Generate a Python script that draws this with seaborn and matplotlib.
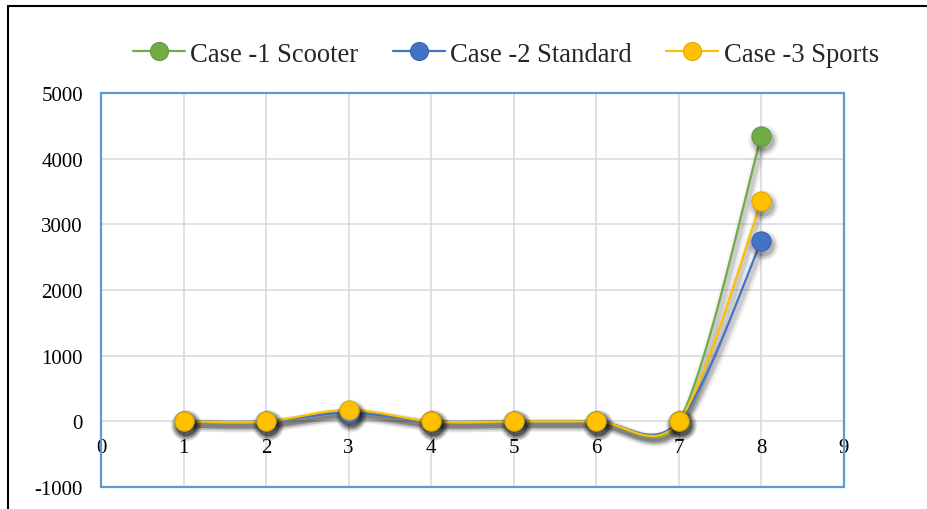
import numpy as np
import pandas as pd
import seaborn as sns
import matplotlib
matplotlib.use("Agg")
import matplotlib.pyplot as plt
from matplotlib.lines import Line2D
from matplotlib.patches import Rectangle
import matplotlib.transforms as mtransforms

# ---- data ----
x_vals = [1, 2, 3, 4, 5, 6, 7, 8]
scooter = [0, 0, 140, 0, 0, 0, 0, 4350]
standard = [0, 0, 130, 0, 0, 0, 0, 2750]
sports = [0, 0, 175, 0, 0, 0, 0, 3360]
series_names = ["Case -1 Scooter", "Case -2 Standard", "Case -3 Sports"]
series_colors = ["#70ad47", "#4472c4", "#ffc000"]
edge_colors = ["#5e9a3a", "#3a62ae", "#e0a800"]
x_ticks = list(range(0, 10))
y_ticks = list(range(-1000, 5001, 1000))

sns.set_theme(style="white")
plt.rcParams["font.family"] = ["Liberation Serif", "DejaVu Serif"]

fig = plt.figure(figsize=(9.28, 5.10), dpi=100)
W, H = 928, 510
ax = fig.add_axes([101 / W, 1 - 488 / H, (844 - 101) / W, (488 - 94) / H])
ax.set_xlim(0, 9)
ax.set_ylim(-1000, 5000)

# grid
for xv in x_ticks[1:-1]:
    ax.axvline(xv, color="#d9d9d9", lw=1.1, zorder=0)
for yv in y_ticks[1:-1]:
    ax.axhline(yv, color="#d9d9d9", lw=1.1, zorder=0)

# axes styling: category labels sit on the zero line
for s in ["top", "right", "left"]:
    ax.spines[s].set_visible(False)
ax.spines["bottom"].set_position(("data", 0))
ax.spines["bottom"].set_visible(False)
ax.set_xticks(x_ticks)
ax.set_xticklabels([str(v) for v in x_ticks])
ax.set_yticks(y_ticks)
ax.set_yticklabels([str(v) for v in y_ticks])
ax.tick_params(axis="x", length=0, pad=12, labelsize=15, colors="black")
ax.tick_params(axis="y", length=0, pad=13, labelsize=15, colors="black")
ax.grid(False)

# plot-area frame
ax.add_patch(Rectangle((0, 0), 1, 1, transform=ax.transAxes, fill=False,
                       edgecolor="#5b9bd5", lw=1.6, zorder=6, clip_on=False))


def smooth_curve(xs, ys, n=40, frac=0.5):
    """Bezier smoothing in display space, returns data coordinates."""
    P = ax.transData.transform(np.column_stack([xs, ys]))
    out = []
    m = len(P)
    for i in range(m - 1):
        prev = P[i - 1] if i > 0 else P[i]
        nxt = P[i + 2] if i + 2 < m else P[i + 1]
        seg = np.linalg.norm(P[i + 1] - P[i])
        t1 = (P[i + 1] - prev) / 6.0
        t2 = (nxt - P[i]) / 6.0
        for t in (t1, t2):
            L = np.linalg.norm(t)
            if L > frac * seg and L > 0:
                t *= frac * seg / L
        c1 = P[i] + t1
        c2 = P[i + 1] - t2
        tt = np.linspace(0, 1, n)[:, None]
        B = ((1 - tt) ** 3) * P[i] + 3 * ((1 - tt) ** 2) * tt * c1 \
            + 3 * (1 - tt) * tt ** 2 * c2 + tt ** 3 * P[i + 1]
        out.append(B if i == 0 else B[1:])
    D = ax.transData.inverted().transform(np.vstack(out))
    return D[:, 0], D[:, 1]


all_series = [scooter, standard, sports]
shadow_tr = mtransforms.offset_copy(ax.transData, fig=fig, x=2, y=-4, units="dots")

for k, (name, vals, col, ec) in enumerate(zip(series_names, all_series,
                                              series_colors, edge_colors)):
    cx, cy = smooth_curve(x_vals, vals)
    curve = pd.DataFrame({"x": cx, "y": cy})
    # soft shadow under the line
    for lw, a in [(9, 0.04), (6, 0.07), (3.5, 0.10)]:
        ax.plot(cx, cy, color="black", lw=lw, alpha=a, transform=shadow_tr,
                zorder=3 + k * 0.1, solid_capstyle="round")
    sns.lineplot(data=curve, x="x", y="y", sort=False, estimator=None,
                 color=col, lw=1.6, ax=ax, zorder=4 + k * 0.1)
    pts = pd.DataFrame({"x": x_vals, "y": vals})
    # soft shadow under the markers
    for s, a in [(480, 0.06), (360, 0.10), (250, 0.16)]:
        ax.scatter(x_vals, vals, s=s, color="black", alpha=a, linewidths=0,
                   transform=shadow_tr, zorder=4.5 + k * 0.1)
    sns.scatterplot(data=pts, x="x", y="y", s=190, color=col, edgecolor=ec,
                    linewidth=0.8, ax=ax, zorder=5 + k * 0.1)

ax.set_xlabel("")
ax.set_ylabel("")

# legend
handles = [Line2D([0], [0], color=c, lw=1.6, marker="o", markersize=13,
                  markerfacecolor=c, markeredgecolor=e, markeredgewidth=0.8)
           for c, e in zip(series_colors, edge_colors)]
fig.legend(handles, series_names, loc="center", bbox_to_anchor=(0.545, 1 - 55 / H),
           ncol=3, frameon=False, fontsize=19.2, handlelength=1.95,
           handletextpad=0.2, columnspacing=1.3)

# outer chart border (left and top)
fig.add_artist(Line2D([8 / W, 8 / W], [0, 1 - 7 / H], transform=fig.transFigure,
                      color="black", lw=1.5))
fig.add_artist(Line2D([8 / W, 1], [1 - 7 / H, 1 - 7 / H], transform=fig.transFigure,
                      color="black", lw=1.5))

fig.savefig("out.png", dpi=100)
